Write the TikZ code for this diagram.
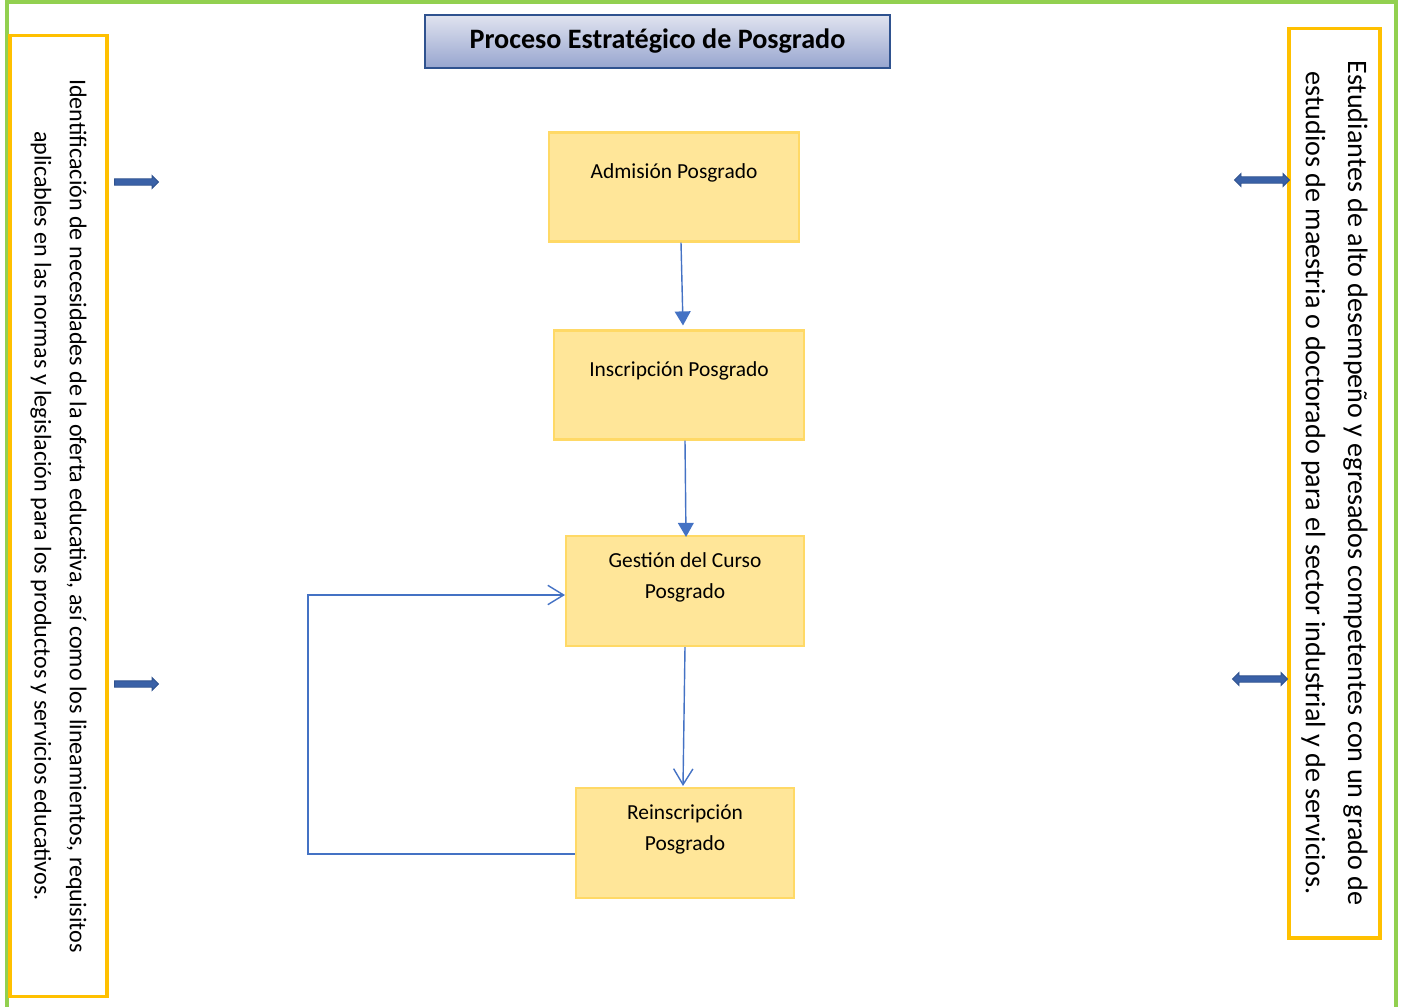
\documentclass[tikz,border=0pt]{standalone}
\usepackage{fontspec}
\setmainfont{Carlito}
\usetikzlibrary{arrows.meta,shapes.arrows,positioning,calc}
\definecolor{marco}{HTML}{92D050}
\definecolor{naranja}{HTML}{FFC000}
\definecolor{relleno}{HTML}{FFE699}
\definecolor{borde}{HTML}{FFD966}
\definecolor{azul}{HTML}{4472C4}
\definecolor{azulosc}{HTML}{2F528F}
\definecolor{titarriba}{HTML}{E0E3EF}
\definecolor{titabajo}{HTML}{97A5CF}

\begin{document}
\begin{tikzpicture}[x=0.02cm, y=-0.02cm,
    paso/.style={draw=borde, fill=relleno, line width=1.2pt, minimum width=5cm, minimum height=2.18cm, align=center, font=\fontsize{12.2}{17.6}\selectfont},
    lado/.style={draw=naranja, line width=1.8pt, rotate=-90, align=center, inner sep=0pt},
    titulo/.style={draw=azulosc, line width=1.2pt, top color=titarriba, bottom color=titabajo, minimum width=9.3cm, minimum height=1.06cm, font=\fontsize{16}{18}\selectfont\bfseries},
    flecha/.style={single arrow, draw=azulosc, fill=azul!85!black, minimum height=0.88cm, minimum width=0.26cm, single arrow head extend=0.06cm, inner sep=1.4pt, line width=0.5pt},
    doble/.style={double arrow, draw=azulosc, fill=azul!85!black, minimum height=1.1cm, minimum width=0.26cm, double arrow head extend=0.06cm, inner sep=1.4pt, line width=0.5pt},
    arr/.style={draw=azul, line width=0.8pt, -{Triangle[length=8pt, width=9pt]}},
    arrv/.style={draw=azul, line width=0.8pt, -{Straight Barb[length=9pt, width=11pt]}}
]
\useasboundingbox (0,0) rectangle (1403,1007);
\draw[marco, line width=0.09cm] (7,1015) -- (7,2) -- (1396,2) -- (1396,1015);

\node[titulo] (tit) at (657.5,41.5) {Proceso Estratégico de Posgrado};

\node[lado, minimum width=19.24cm, minimum height=1.94cm, font=\fontsize{13.7}{20}\selectfont] (izq) at (58.5,516)
  {Identificación de necesidades de la oferta educativa, así como los lineamientos, requisitos\\
   aplicables en las normas y legislación para los productos y servicios educativos.};
\node[lado, minimum width=18.2cm, minimum height=1.82cm, font=\fontsize{16}{24}\selectfont] (der) at (1334.5,483)
  {Estudiantes de alto desempeño y egresados competentes con un grado de\\
   estudios de maestria o doctorado para el sector industrial y de servicios.};

\node[flecha] (fi1) at (135,182) {};
\node[flecha] (fi2) at (135,684) {};
\node[doble] (fd1) at (1262,180) {};
\node[doble] (fd2) at (1260,679) {};

\node[paso] (adm) at (674,187) {Admisión Posgrado\\~};
\node[paso] (ins) at (679,385) {Inscripción Posgrado\\~};
\node[paso, minimum width=4.76cm, minimum height=2.2cm] (ges) at (685,591) {Gestión del Curso\\Posgrado\\~};
\node[paso, minimum width=4.36cm, minimum height=2.2cm] (rei) at (685,843) {Reinscripción\\Posgrado\\~};

\draw[arr] ($(adm.south)+(7,0)$) -- ($(ins.north)+(4,-4)$);
\draw[arr] ($(ins.south)+(6,0)$) -- ($(ges.north)+(1,2)$);
\draw[arrv] (ges.south) -- ($(rei.north)+(-2,-1)$);
\draw[arrv] ($(rei.west)+(0,11)$) -- ++(-267,0) |- ($(ges.west)+(0,4)$);
\end{tikzpicture}
\end{document}
